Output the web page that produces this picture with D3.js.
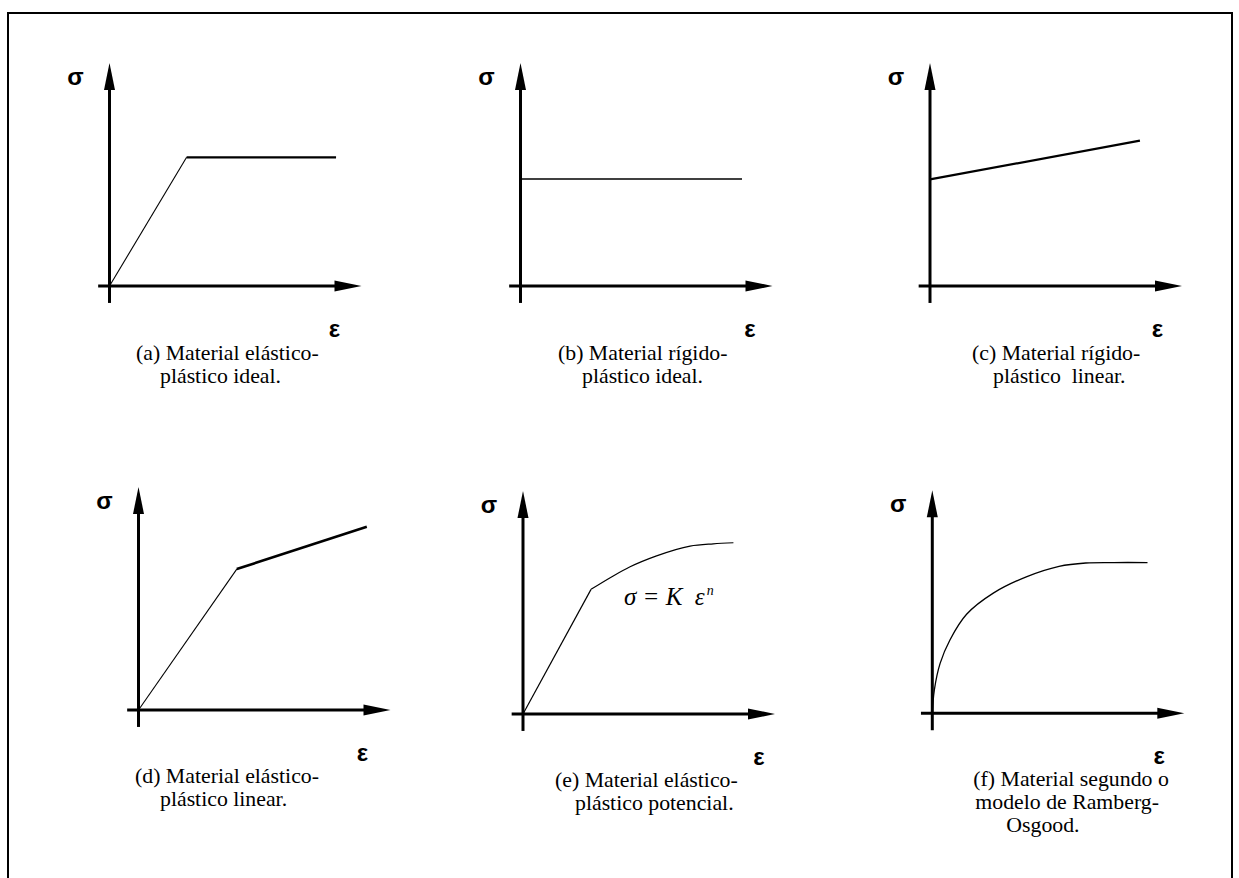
<!DOCTYPE html>
<html><head><meta charset="utf-8">
<script src="https://cdn.jsdelivr.net/npm/d3@7"></script>
<style>body{margin:0;background:#fff;overflow:hidden}</style>
</head><body>
<script>
// ---------- data (ε, σ) in relative units 0..100 ----------
const panelIds = ["a", "b", "c", "d", "e", "f"];
const elasticA = [[0, 0], [30.6, 57.7]];
const plasticA = [[30.6, 57.7], [89.9, 57.7]];
const elasticB = [];
const plasticB = [[0, 48], [87.9, 48]];
const elasticC = [];
const plasticC = [[0, 47.8], [83.3, 65.2]];
const elasticD = [[0, 0], [39, 63.2]];
const plasticD = [[39, 63.2], [90.6, 82.2]];
const elasticE = [[0, 0], [27, 55.9]];
const plasticE = [[27, 55.9], [35.8, 61.9], [42.5, 66], [53, 70.9], [66.3, 75.3], [75.5, 76.3], [83.5, 76.8]];
const elasticF = [];
const plasticF = [[0, 0], [0.8, 10.4], [3.1, 22.4], [7, 32.9], [13.6, 44.4], [24.2, 53.9], [37.3, 61.2], [50.3, 65.9], [60.9, 67.4], [72, 67.6], [85.4, 67.6]];
const sigmaLabel = "σ";
const epsLabel = "ε";
const captionsA = ["(a) Material elástico-", "plástico ideal."];
const captionsB = ["(b) Material rígido-", "plástico ideal."];
const captionsC = ["(c) Material rígido-", "plástico  linear."];
const captionsD = ["(d) Material elástico-", "plástico linear."];
const captionsE = ["(e) Material elástico-", "plástico potencial."];
const captionsF = ["(f) Material segundo o", "modelo de Ramberg-", "Osgood."];
const formulaE = ["σ = K  ε", "n"];

// ---------- layout ----------
const W = 1239, H = 878;
const layout = [
  {ox: 109.5, oy: 286, epsDx: 225, capX: [26.5, 50.5], thin: 1.1, thick: 2.2, curve: null},
  {ox: 520.5, oy: 286, epsDx: 229.5, capX: [37.5, 61.5], thin: 1.1, thick: 1.6, curve: null},
  {ox: 930, oy: 286, epsDx: 227.5, capX: [42, 63], thin: 1.1, thick: 2.2, curve: null},
  {ox: 138.5, oy: 710, epsDx: 224, capX: [-3.5, 21.5], thin: 1.1, thick: 2.6, curve: null},
  {ox: 523, oy: 714, epsDx: 236, capX: [32, 52], thin: 1.2, thick: 1.2, curve: "mono"},
  {ox: 932.3, oy: 713.3, epsDx: 227, capX: [41, 43, 74], thin: 1.2, thick: 1.3, curve: "cr"}
];
const elastic = [elasticA, elasticB, elasticC, elasticD, elasticE, elasticF];
const plastic = [plasticA, plasticB, plasticC, plasticD, plasticE, plasticF];
const captions = [captionsA, captionsB, captionsC, captionsD, captionsE, captionsF];

const svg = d3.select("body").append("svg").attr("width", W).attr("height", H);
svg.append("rect").attr("x", 8).attr("y", 13).attr("width", 1224).attr("height", 920)
  .attr("fill", "none").attr("stroke", "#000").attr("stroke-width", 2);

const x = d3.scaleLinear().domain([0, 100]).range([0, 252]);
const y = d3.scaleLinear().domain([0, 100]).range([0, -223]);
const arrowLen = 27, arrowHalf = 5.5;

panelIds.forEach((id, i) => {
  const L = layout[i];
  const g = svg.append("g").attr("transform", `translate(${L.ox},${L.oy})`);
  // axes
  g.append("line").attr("x1", x(-4.5)).attr("x2", x(100) - arrowLen + 2).attr("y1", 0).attr("y2", 0)
    .attr("stroke", "#000").attr("stroke-width", 3);
  g.append("path").attr("d", `M${x(100)},0L${x(100) - arrowLen},${-arrowHalf}L${x(100) - arrowLen},${arrowHalf}Z`)
    .attr("fill", "#000");
  g.append("line").attr("x1", 0).attr("x2", 0).attr("y1", y(-7.6)).attr("y2", y(100) + arrowLen - 2)
    .attr("stroke", "#000").attr("stroke-width", 3);
  g.append("path").attr("d", `M0,${y(100)}L${-arrowHalf},${y(100) + arrowLen}L${arrowHalf},${y(100) + arrowLen}Z`)
    .attr("fill", "#000");

  const lin = d3.line().x(d => x(d[0])).y(d => y(d[1]));
  const gen = L.curve === "mono" ? d3.line().x(d => x(d[0])).y(d => y(d[1])).curve(d3.curveMonotoneX)
            : L.curve === "cr" ? d3.line().x(d => x(d[0])).y(d => y(d[1])).curve(d3.curveCatmullRom.alpha(0.5))
            : lin;
  if (elastic[i].length) {
    g.append("path").attr("d", lin(elastic[i])).attr("fill", "none")
      .attr("stroke", "#000").attr("stroke-width", L.thin);
  }
  g.append("path").attr("d", gen(plastic[i])).attr("fill", "none")
    .attr("stroke", "#000").attr("stroke-width", L.thick).attr("stroke-linejoin", "round");

  // axis labels
  g.append("text").attr("x", -34).attr("y", y(100) + 22).attr("text-anchor", "middle")
    .attr("font-family", "Liberation Sans, Arial, sans-serif").attr("font-weight", "bold")
    .attr("font-size", 24).text(sigmaLabel);
  g.append("text").attr("x", L.epsDx).attr("y", 51).attr("text-anchor", "middle")
    .attr("font-family", "Liberation Sans, Arial, sans-serif").attr("font-weight", "bold")
    .attr("font-size", 24).text(epsLabel);

  // captions
  const capBase = i < 3 ? 74 : 73;
  captions[i].forEach((line, k) => {
    g.append("text").attr("x", L.capX[k]).attr("y", capBase + k * 23)
      .attr("font-family", "Liberation Serif, Times New Roman, serif").attr("font-size", 21.8)
      .style("white-space", "pre").text(line);
  });

  if (id === "e") {
    const t = g.append("text").attr("x", 101).attr("y", -109)
      .attr("font-family", "Liberation Serif, Times New Roman, serif").attr("font-style", "italic")
      .attr("font-size", 25).style("white-space", "pre");
    t.append("tspan").text(formulaE[0]);
    t.append("tspan").attr("dy", -10).attr("dx", 2).attr("font-size", 14).text(formulaE[1]);
  }
});
</script>
</body></html>
